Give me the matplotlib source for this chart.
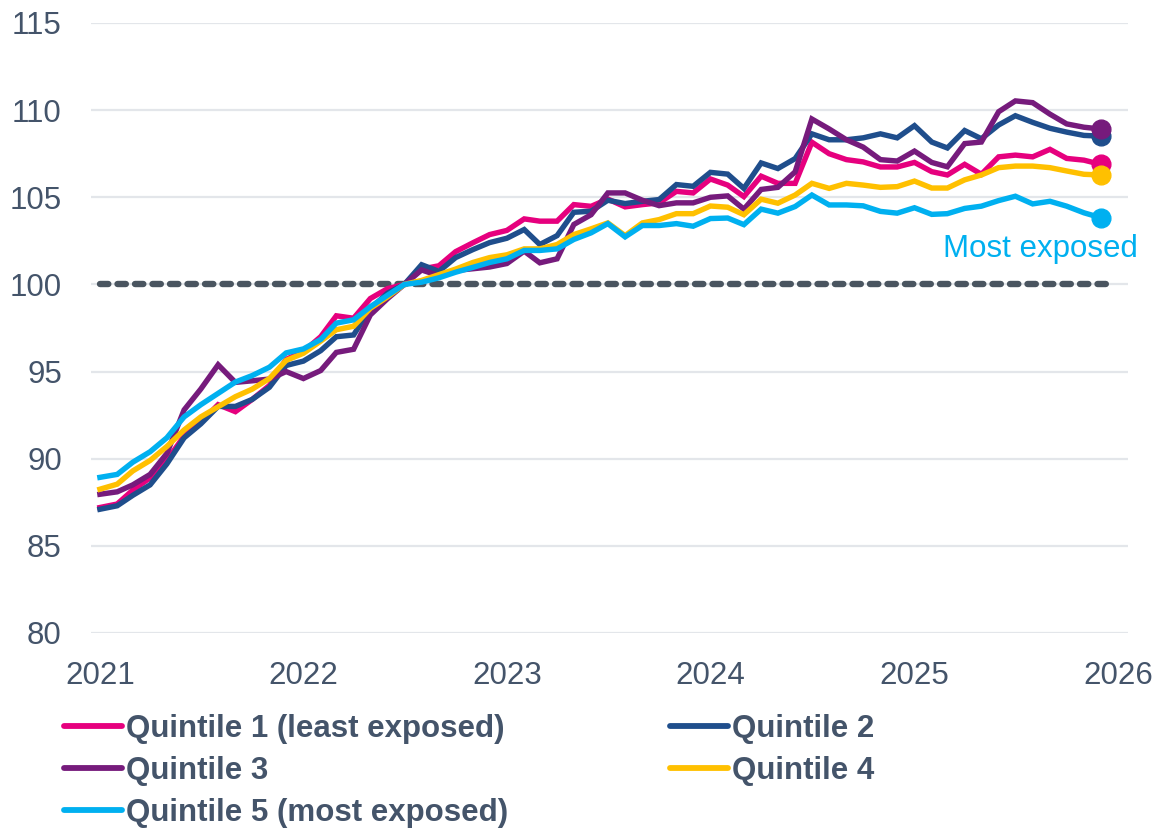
import matplotlib
matplotlib.use("Agg")
import matplotlib.pyplot as plt
import matplotlib.dates as mdates
import pandas as pd
from matplotlib.lines import Line2D

plt.rcParams['font.family'] = ['Liberation Sans', 'DejaVu Sans']
plt.rcParams['lines.scale_dashes'] = False

dates = pd.date_range('2021-01-01', periods=60, freq='MS')

q1 = [87.2, 87.4, 88.2, 88.9, 89.9, 91.3, 92.1, 93.1, 92.7, 93.4, 94.2, 95.7,
      96.15, 97.0, 98.2, 98.06, 99.19, 99.76, 100.0, 100.88, 101.07, 101.88, 102.39, 102.86,
      103.1, 103.76, 103.63, 103.63, 104.58, 104.48, 104.9, 104.45, 104.58, 104.68, 105.34, 105.25,
      106.05, 105.7, 105.04, 106.21, 105.8, 105.8, 108.16, 107.5, 107.16, 107.03, 106.74, 106.74,
      107.0, 106.47, 106.28, 106.89, 106.32, 107.32, 107.42, 107.32, 107.75, 107.23, 107.13, 106.89]

q2 = [87.1, 87.3, 87.9, 88.5, 89.7, 91.2, 92.0, 93.0, 93.0, 93.4, 94.1, 95.35,
      95.6, 96.2, 97.0, 97.1, 98.6, 99.5, 100.0, 101.13, 100.75, 101.54, 102.0, 102.4,
      102.65, 103.15, 102.29, 102.8, 104.14, 104.2, 104.83, 104.64, 104.77, 104.87, 105.73, 105.63,
      106.43, 106.33, 105.51, 106.97, 106.65, 107.22, 108.64, 108.3, 108.3, 108.41, 108.64, 108.41,
      109.11, 108.17, 107.83, 108.83, 108.36, 109.15, 109.68, 109.3, 108.96, 108.74, 108.55, 108.51]

q3 = [87.96, 88.1, 88.5, 89.1, 90.3, 92.8, 94.0, 95.39, 94.38, 94.47, 94.57, 95.0,
      94.6, 95.06, 96.1, 96.28, 98.25, 99.19, 100.0, 100.83, 100.5, 100.8, 100.9, 101.0,
      101.2, 101.91, 101.24, 101.47, 103.44, 104.0, 105.25, 105.25, 104.83, 104.52, 104.68, 104.68,
      105.0, 105.08, 104.32, 105.45, 105.57, 106.46, 109.49, 108.92, 108.3, 107.88, 107.16, 107.08,
      107.65, 107.0, 106.75, 108.08, 108.17, 109.91, 110.53, 110.43, 109.77, 109.21, 109.02, 108.92]

q4 = [88.25, 88.54, 89.3, 89.9, 90.7, 91.65, 92.4, 92.98, 93.56, 93.99, 94.6, 95.64,
      96.05, 96.75, 97.4, 97.6, 98.63, 99.29, 100.0, 100.23, 100.56, 100.88, 101.26, 101.54,
      101.7, 102.04, 102.04, 102.29, 102.86, 103.19, 103.53, 102.8, 103.53, 103.72, 104.06, 104.06,
      104.5, 104.43, 104.0, 104.89, 104.66, 105.13, 105.8, 105.51, 105.8, 105.7, 105.57, 105.61,
      105.93, 105.53, 105.53, 106.0, 106.28, 106.7, 106.79, 106.79, 106.7, 106.51, 106.32, 106.28]

q5 = [88.93, 89.1, 89.8, 90.4, 91.2, 92.4, 93.1, 93.75, 94.4, 94.77, 95.25, 96.07,
      96.3, 96.84, 97.78, 97.97, 98.72, 99.38, 100.0, 100.13, 100.38, 100.7, 100.98, 101.26,
      101.47, 101.95, 101.95, 102.04, 102.58, 102.96, 103.49, 102.73, 103.38, 103.38, 103.49, 103.34,
      103.78, 103.81, 103.43, 104.32, 104.09, 104.47, 105.13, 104.56, 104.56, 104.51, 104.19, 104.09,
      104.4, 104.02, 104.06, 104.36, 104.49, 104.81, 105.06, 104.62, 104.77, 104.49, 104.11, 103.83]

labels = ['Quintile 1 (least exposed)', 'Quintile 2', 'Quintile 3', 'Quintile 4',
          'Quintile 5 (most exposed)']
colors = ['#E6007E', '#1F4E8C', '#761B7C', '#FFC000', '#00B0F0']
series = [q1, q2, q3, q4, q5]

baseline_value = 100
y_ticks = [80, 85, 90, 95, 100, 105, 110, 115]
x_tick_years = [2021, 2022, 2023, 2024, 2025, 2026]

text_color = '#44546A'

fig = plt.figure(figsize=(11.58, 8.31), dpi=100)
ax = fig.add_axes([91/1158, 1 - 633/831, (1128 - 91)/1158, (633 - 23)/831])

# baseline dashed line
ax.plot([pd.Timestamp('2021-01-01'), pd.Timestamp('2025-12-20')],
        [baseline_value, baseline_value], color='#4A5560', lw=4.6,
        dashes=(6.0, 6.6), dash_capstyle='round', zorder=2)

handles = []
for vals, c, lab in zip(series, colors, labels):
    ax.plot(dates, vals, color=c, lw=3.9, solid_joinstyle='miter', zorder=3)
    ax.plot(dates[-1:], vals[-1:], 'o', color=c, ms=13.5, zorder=4)
    handles.append(Line2D([0], [0], color=c, lw=4.2, solid_capstyle='round'))

ax.set_ylim(80, 115)
ax.set_xlim(pd.Timestamp('2020-12-16'), pd.Timestamp('2026-01-19'))
ax.set_yticks(y_ticks)
ax.set_xticks([pd.Timestamp(f'{y}-01-01') for y in x_tick_years])
ax.xaxis.set_major_formatter(mdates.DateFormatter('%Y'))
ax.grid(axis='y', color='#E3E6EA', lw=1.6, zorder=0)
ax.set_axisbelow(True)
for s in ax.spines.values():
    s.set_visible(False)
ax.tick_params(axis='y', length=0, pad=21, labelsize=22.5, labelcolor=text_color)
ax.tick_params(axis='x', length=0, pad=20, labelsize=22.5, labelcolor=text_color)

ax.text(pd.Timestamp('2025-08-15'), 101.56, 'Most exposed', color='#00B0F0',
        fontsize=22.5, ha='center', va='baseline')

order = [0, 2, 4, 1, 3]
leg = fig.legend([handles[i] for i in order], [labels[i] for i in order],
                 loc='upper left', bbox_to_anchor=(64/1158, 1 - 714/831), ncol=2,
                 frameon=False, borderpad=0, borderaxespad=0,
                 handlelength=1.85, handletextpad=0.12, labelspacing=0.38,
                 columnspacing=5.2,
                 prop={'weight': 'bold', 'size': 22.5})
for t in leg.get_texts():
    t.set_color(text_color)

fig.savefig('out.png', dpi=100)
